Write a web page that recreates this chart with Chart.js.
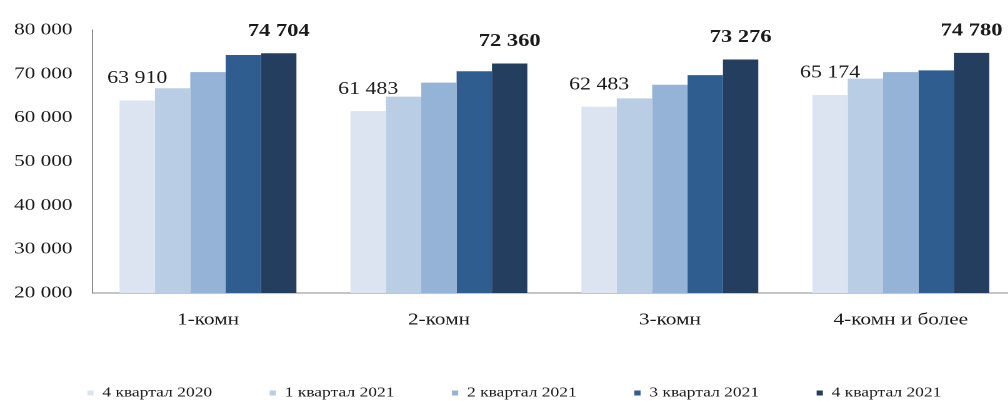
<!DOCTYPE html>
<html lang="ru">
<head>
<meta charset="utf-8">
<title>Средняя цена квадратного метра по типам квартир</title>
<script src="https://cdn.jsdelivr.net/npm/chart.js@4/dist/chart.umd.min.js"></script>
<style>
  html, body { margin: 0; padding: 0; background: #fff; overflow: hidden; }
  #wrap {
    position: absolute; left: 0; top: 0;
    width: 813px; height: 407px;
    transform: scaleX(1.25); transform-origin: 0 0;
  }
</style>
</head>
<body>
<div id="wrap"><canvas id="chart"></canvas></div>
<script>
// Room-count categories
const categories = ['1-комн', '2-комн', '3-комн', '4-комн и более'];

// Quarter names for the legend
const seriesNames = ['4 квартал 2020', '1 квартал 2021', '2 квартал 2021', '3 квартал 2021', '4 квартал 2021'];

// Price per square metre, rubles
const q4_2020 = [63910, 61483, 62483, 65174];
const q1_2021 = [66700, 64800, 64400, 68900];
const q2_2021 = [70400, 68000, 67500, 70400];
const q3_2021 = [74300, 70600, 69700, 70800];
const q4_2021 = [74704, 72360, 73276, 74780];

// Value axis range
const yMin = 20000;
const yMax = 80000;
const yStep = 10000;

const seriesColors = ['#dce4f2', '#b9cde5', '#95b3d7', '#305d90', '#243e60'];
const seriesValues = [q4_2020, q1_2021, q2_2021, q3_2021, q4_2021];

const SERIF = '"Liberation Serif", "Times New Roman", serif';
const fmt = v => String(v).replace(/\B(?=(\d{3})+(?!\d))/g, ' ');

// Value labels above the first and last quarter bars
const valueLabels = {
  id: 'valueLabels',
  afterDatasetsDraw(chart) {
    const ctx = chart.ctx;
    const specs = [
      { ds: 0, font: '17.5px ' + SERIF },
      { ds: seriesValues.length - 1, font: 'bold 18px ' + SERIF }
    ];
    ctx.save();
    ctx.fillStyle = '#1a1a1a';
    ctx.textAlign = 'center';
    ctx.textBaseline = 'middle';
    specs.forEach(s => {
      const meta = chart.getDatasetMeta(s.ds);
      ctx.font = s.font;
      meta.data.forEach((bar, i) => {
        ctx.fillText(fmt(seriesValues[s.ds][i]), bar.x, bar.y - 22);
      });
    });
    ctx.restore();
  }
};

// Compact legend strip: fixed height so it sits near the bottom edge
const legendHeight = {
  id: 'legendHeight',
  beforeLayout(chart) {
    const lg = chart.legend;
    if (lg && !lg._fixedFit) {
      const origFit = lg.fit;
      lg.fit = function () {
        origFit.call(this);
        this.height = 67;
      };
      lg._fixedFit = true;
    }
  }
};

new Chart(document.getElementById('chart'), {
  type: 'bar',
  data: {
    labels: categories,
    datasets: seriesNames.map((name, k) => ({
      label: name,
      data: seriesValues[k],
      backgroundColor: seriesColors[k],
      borderWidth: 0,
      barPercentage: 1.0,
      categoryPercentage: 0.766
    }))
  },
  options: {
    responsive: true,
    maintainAspectRatio: false,
    animation: false,
    devicePixelRatio: 2,
    layout: { padding: { top: 30, left: 10, right: 0, bottom: 0 } },
    scales: {
      x: {
        grid: { display: false, drawTicks: false },
        border: { display: true, color: '#8a8a8a', width: 1 },
        ticks: { color: '#1a1a1a', font: { family: SERIF, size: 17 }, padding: 17, maxRotation: 0 },
        afterFit(scale) { scale.height = 47; }
      },
      y: {
        min: yMin,
        max: yMax,
        grid: { display: false, drawTicks: false },
        border: { display: true, color: '#8a8a8a', width: 1 },
        ticks: {
          stepSize: yStep,
          color: '#1a1a1a',
          font: { family: SERIF, size: 17 },
          padding: 16,
          callback: v => fmt(v)
        },
        afterFit(scale) { scale.width = 64; }
      }
    },
    plugins: {
      legend: {
        position: 'bottom',
        labels: {
          color: '#1a1a1a',
          font: { family: SERIF, size: 14 },
          boxWidth: 5,
          boxHeight: 5,
          padding: 46
        }
      },
      tooltip: { enabled: false }
    }
  },
  plugins: [valueLabels, legendHeight]
});
</script>
</body>
</html>
